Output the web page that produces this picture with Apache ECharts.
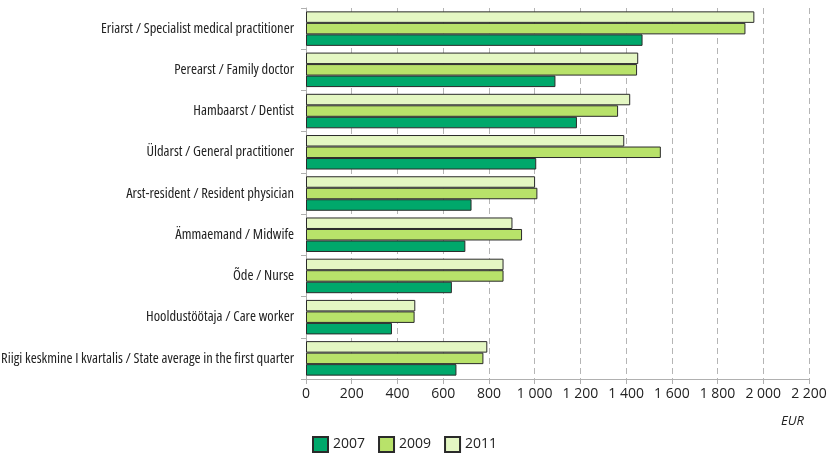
<!DOCTYPE html>
<html>
<head>
<meta charset="utf-8">
<script src="https://cdn.jsdelivr.net/npm/echarts@6/dist/echarts.min.js"></script>
<style>
html,body{margin:0;padding:0;background:#fff;}
#chart{width:835px;height:453px;}
</style>
</head>
<body>
<div id="chart"></div>
<script>
// Monthly gross wages by occupation, EUR
const categories = [
  'Eriarst / Specialist medical practitioner',
  'Perearst / Family doctor',
  'Hambaarst / Dentist',
  'Üldarst / General practitioner',
  'Arst-resident / Resident physician',
  'Ämmaemand / Midwife',
  'Õde / Nurse',
  'Hooldustöötaja / Care worker',
  'Riigi keskmine I kvartalis / State average in the first quarter'
];
const years = ['2007', '2009', '2011'];
const wages2007 = [1472, 1091, 1185, 1007, 724, 697, 638, 376, 658];
const wages2009 = [1922, 1448, 1365, 1552, 1012, 945, 864, 475, 776];
const wages2011 = [1961, 1453, 1418, 1392, 1002, 903, 864, 478, 793];
const colors = { '2007': '#00a86b', '2009': '#b8e26a', '2011': '#e4f7c3' };
const byYear = { '2007': wages2007, '2009': wages2009, '2011': wages2011 };

const baseFont = '"Open Sans", "Noto Sans", sans-serif';

function spaced(v) {
  return String(v).replace(/\B(?=(\d{3})+(?!\d))/g, ' ');
}

const chart = echarts.init(document.getElementById('chart'));

// Newest year drawn at the top of each group
const drawOrder = ['2011', '2009', '2007'];

chart.setOption({
  animation: false,
  grid: { left: 306, right: 26, top: 8, bottom: 74, containLabel: false, outerBoundsMode: 'none' },
  legend: {
    left: 307, top: 431,
    itemWidth: 15, itemHeight: 15, itemGap: 13,
    icon: 'rect',
    textStyle: { fontSize: 14, color: '#222', fontFamily: baseFont },
    data: years
  },
  xAxis: {
    type: 'value',
    min: 0, max: 2200, interval: 200,
    name: 'EUR',
    nameLocation: 'end',
    nameGap: 0,
    nameTextStyle: { fontStyle: 'italic', fontSize: 13, color: '#222', fontFamily: baseFont,
      align: 'right', verticalAlign: 'top', padding: [36, 5, 0, 0] },
    axisLine: { show: true, lineStyle: { color: '#b0b0b0' } },
    axisTick: { show: true, length: 5, lineStyle: { color: '#b0b0b0' } },
    axisLabel: { fontSize: 14, color: '#222', fontFamily: baseFont, margin: 8, formatter: spaced },
    splitLine: { show: true, lineStyle: { color: '#b5b5b5', type: [6, 4], width: 1 } }
  },
  yAxis: {
    type: 'category',
    inverse: true,
    data: categories,
    axisLine: { show: true, lineStyle: { color: '#b0b0b0' } },
    axisTick: { show: true, length: 5, lineStyle: { color: '#b0b0b0' } },
    // narrow face of Open Sans for the long occupation names
    axisLabel: { fontSize: 14.5, color: '#222', fontFamily: baseFont, fontWeight: 'condensed', margin: 12 }
  },
  series: drawOrder.map(y => ({
    name: y,
    type: 'bar',
    data: byYear[y],
    barWidth: 11.5,
    barGap: '0%',
    itemStyle: { color: colors[y], borderColor: '#2a2a2a', borderWidth: 1 }
  }))
});
</script>
</body>
</html>
